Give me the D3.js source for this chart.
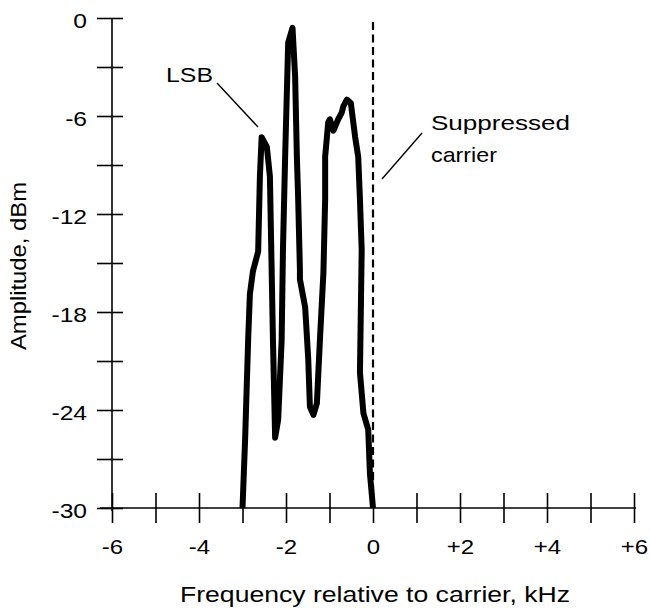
<!DOCTYPE html>
<html><head><meta charset="utf-8">
<script src="https://cdn.jsdelivr.net/npm/d3@7"></script>
<style>
html,body{margin:0;padding:0;background:#fff;}
svg{display:block;font-family:"Liberation Sans",Arial,sans-serif;}
</style></head>
<body>
<svg id="c" width="650" height="609"></svg>
<script>
// Data
const freq = [-3.0,-2.94,-2.87,-2.83,-2.76,-2.71,-2.64,-2.60,-2.56,-2.44,-2.37,-2.33,-2.30,-2.25,-2.18,-2.10,-2.07,-2.02,-1.95,-1.85,-1.79,-1.75,-1.72,-1.68,-1.68,-1.56,-1.49,-1.45,-1.37,-1.29,-1.22,-1.14,-1.10,-1.10,-1.03,-0.99,-0.91,-0.80,-0.72,-0.68,-0.60,-0.51,-0.41,-0.34,-0.30,-0.26,-0.30,-0.22,-0.11,-0.07,0.0];
const amp  = [-30,-25.8,-19.7,-16.9,-15.5,-15.0,-14.3,-9.7,-7.3,-7.9,-9.7,-15.4,-19.7,-25.7,-24.6,-19.7,-14.2,-8.5,-1.5,-0.6,-3.6,-8.5,-11.1,-15.4,-16.0,-17.7,-20.8,-23.8,-24.3,-23.6,-19.7,-15.6,-11.1,-8.5,-6.4,-6.2,-6.9,-6.2,-5.8,-5.4,-5.0,-5.2,-7.3,-8.5,-11.1,-14.2,-21.7,-24.2,-25.2,-27.9,-30];
const xTickValues = [-6,-5,-4,-3,-2,-1,0,1,2,3,4,5,6];
const xTickLabels = {"-6":"-6","-4":"-4","-2":"-2","0":"0","2":"+2","4":"+4","6":"+6"};
const yTickValues = [0,-3,-6,-9,-12,-15,-18,-21,-24,-27,-30];
const yTickLabels = {"0":"0","-6":"-6","-12":"-12","-18":"-18","-24":"-24","-30":"-30"};
const carrierFreq = 0;
const xTitle = "Frequency relative to carrier, kHz";
const yTitle = "Amplitude, dBm";

const svg = d3.select("#c");
const x = d3.scaleLinear().domain([-6,6]).range([112,634]);
const y = d3.scaleLinear().domain([-30,0]).range([508,18]);

function widen(sel, k){
  sel.each(function(){
    const w = this.getComputedTextLength();
    if (w > 0) d3.select(this).attr("textLength", w*k).attr("lengthAdjust","spacingAndGlyphs");
  });
}

// X axis
const xa = svg.append("g").attr("transform","translate(0,"+y(-30)+")")
  .call(d3.axisBottom(x).tickValues(xTickValues).tickSize(15)
        .tickFormat(d => xTickLabels[String(d)] || ""));
xa.select(".domain").remove();
xa.selectAll(".tick line").attr("y1",-15).attr("y2",15).attr("stroke","#000").attr("stroke-width",1.6);
xa.selectAll(".tick text").attr("y",46).attr("dy",null).attr("font-size",20.5)
  .attr("font-family","Liberation Sans, Arial, sans-serif").attr("fill","#000")
  .call(widen, 1.17);
xa.append("line").attr("x1",100).attr("x2",636).attr("y1",0).attr("y2",0)
  .attr("stroke","#000").attr("stroke-width",1.6);

// Y axis
const ya = svg.append("g").attr("transform","translate("+x(-6)+",0)")
  .call(d3.axisLeft(y).tickValues(yTickValues).tickSize(12)
        .tickFormat(d => yTickLabels[String(d)] || ""));
ya.select(".domain").remove();
ya.selectAll(".tick line").attr("x1",-15).attr("x2",11).attr("stroke","#000").attr("stroke-width",1.6);
ya.selectAll(".tick text").attr("x",-25).attr("dy","0.45em").attr("font-size",20.5)
  .attr("font-family","Liberation Sans, Arial, sans-serif").attr("fill","#000")
  .call(widen, 1.2);
ya.append("line").attr("x1",0).attr("x2",0).attr("y1",y(0)).attr("y2",y(-30)+3)
  .attr("stroke","#000").attr("stroke-width",1.6);

// Suppressed carrier dashed line
svg.append("line").attr("x1",x(carrierFreq)).attr("x2",x(carrierFreq))
  .attr("y1",y(-0.25)).attr("y2",y(-30))
  .attr("stroke","#000").attr("stroke-width",2.2).attr("stroke-dasharray","8,4.5");

// Spectrum
const pts = freq.map((f,i)=>[f,amp[i]]);
svg.append("path").datum(pts)
  .attr("d", d3.line().x(d=>x(d[0])).y(d=>y(d[1])))
  .attr("fill","none").attr("stroke","#000").attr("stroke-width",6)
  .attr("stroke-linejoin","round").attr("stroke-linecap","butt");

// Annotations
svg.append("text").attr("x",166).attr("y",82).attr("font-size",21)
  .attr("textLength",47).attr("lengthAdjust","spacingAndGlyphs").text("LSB");
svg.append("line").attr("x1",217).attr("y1",83).attr("x2",258).attr("y2",127)
  .attr("stroke","#000").attr("stroke-width",1.4);
svg.append("text").attr("x",431).attr("y",130).attr("font-size",21)
  .attr("textLength",139).attr("lengthAdjust","spacingAndGlyphs").text("Suppressed");
svg.append("text").attr("x",431).attr("y",162).attr("font-size",21)
  .attr("textLength",66).attr("lengthAdjust","spacingAndGlyphs").text("carrier");
svg.append("line").attr("x1",422).attr("y1",133).attr("x2",382).attr("y2",179)
  .attr("stroke","#000").attr("stroke-width",1.4);

// Axis titles
svg.append("text").attr("x",375).attr("y",602).attr("text-anchor","middle").attr("font-size",22)
  .attr("textLength",390).attr("lengthAdjust","spacingAndGlyphs").text(xTitle);
svg.append("text").attr("transform","translate(26,266) rotate(-90)").attr("text-anchor","middle")
  .attr("font-size",22).attr("textLength",168).attr("lengthAdjust","spacingAndGlyphs").text(yTitle);
</script>
</body></html>
